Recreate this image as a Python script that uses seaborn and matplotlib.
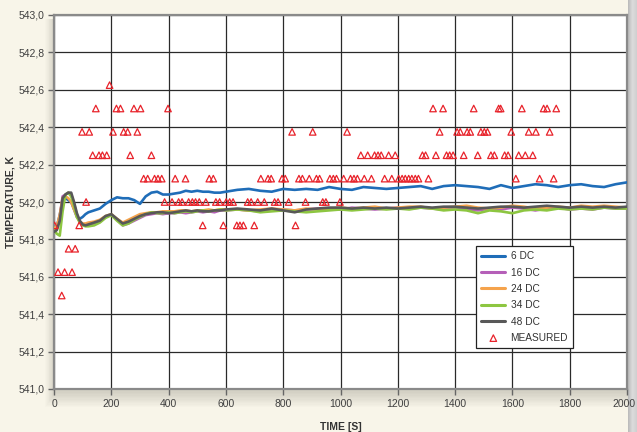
import numpy as np
import pandas as pd
import matplotlib
matplotlib.use("Agg")
import matplotlib.pyplot as plt
import seaborn as sns
from matplotlib.ticker import FuncFormatter, MultipleLocator
from matplotlib.patches import Rectangle

# Simulated coolant temperature for different numbers of discretisation cells
time_s = [0, 10, 20, 30, 40, 50, 60, 70, 80, 90, 100, 110, 120,
          140, 160, 180, 200, 220, 240, 260, 280, 300, 320, 340, 360, 380, 400,
          420, 440, 460, 480, 500, 520, 540, 560, 580, 600,
          640, 680, 720, 760, 800, 840, 880, 920, 960, 1000, 1040, 1080, 1120,
          1160, 1200, 1240, 1280, 1320, 1360, 1400, 1440, 1480, 1520, 1560,
          1600, 1640, 1680, 1720, 1760, 1800, 1840, 1880, 1920, 1960, 2000]

dc6 = [541.86, 541.87, 541.93, 542.01, 542.02, 542.01, 542.00, 541.96, 541.92, 541.91, 541.92, 541.935, 541.945,
       541.955, 541.965, 541.99, 542.01, 542.025, 542.02, 542.02, 542.01, 541.99, 542.03, 542.05, 542.055, 542.04, 542.04,
       542.045, 542.05, 542.06, 542.055, 542.06, 542.055, 542.055, 542.05, 542.05, 542.055,
       542.065, 542.07, 542.06, 542.055, 542.07, 542.065, 542.07, 542.065, 542.08, 542.07, 542.065, 542.08, 542.075,
       542.07, 542.075, 542.08, 542.085, 542.07, 542.085, 542.09, 542.085, 542.08, 542.07, 542.09,
       542.075, 542.085, 542.095, 542.09, 542.08, 542.09, 542.095, 542.085, 542.08, 542.095, 542.105]

dc16 = [541.85, 541.86, 541.92, 542.03, 542.04, 542.05, 542.04, 541.99, 541.93, 541.895, 541.88, 541.875, 541.875,
        541.885, 541.895, 541.92, 541.93, 541.905, 541.875, 541.885, 541.90, 541.915, 541.93, 541.935, 541.94, 541.935, 541.94,
        541.94, 541.945, 541.94, 541.945, 541.95, 541.945, 541.95, 541.945, 541.955, 541.955,
        541.96, 541.955, 541.95, 541.96, 541.96, 541.955, 541.96, 541.965, 541.965, 541.96, 541.97, 541.965, 541.96,
        541.965, 541.97, 541.965, 541.97, 541.965, 541.96, 541.965, 541.96, 541.955, 541.965, 541.96,
        541.97, 541.965, 541.955, 541.965, 541.97, 541.96, 541.965, 541.96, 541.97, 541.965, 541.965]

dc24 = [541.86, 541.87, 541.93, 542.02, 542.03, 542.02, 542.00, 541.96, 541.92, 541.895, 541.885, 541.885, 541.89,
        541.895, 541.905, 541.925, 541.935, 541.91, 541.89, 541.905, 541.92, 541.935, 541.94, 541.945, 541.945, 541.95, 541.95,
        541.95, 541.955, 541.955, 541.95, 541.955, 541.955, 541.96, 541.955, 541.96, 541.96,
        541.96, 541.955, 541.96, 541.965, 541.96, 541.955, 541.965, 541.96, 541.965, 541.97, 541.965, 541.97, 541.975,
        541.965, 541.97, 541.975, 541.975, 541.965, 541.97, 541.975, 541.98, 541.97, 541.965, 541.97,
        541.98, 541.975, 541.965, 541.97, 541.975, 541.97, 541.98, 541.975, 541.98, 541.975, 541.97]

dc34 = [541.85, 541.83, 541.82, 541.95, 542.04, 542.05, 542.03, 541.98, 541.92, 541.89, 541.875, 541.87, 541.87,
        541.875, 541.89, 541.915, 541.93, 541.90, 541.875, 541.885, 541.905, 541.92, 541.935, 541.945, 541.94, 541.94, 541.945,
        541.94, 541.945, 541.95, 541.945, 541.95, 541.955, 541.95, 541.955, 541.96, 541.955,
        541.96, 541.955, 541.945, 541.95, 541.955, 541.95, 541.945, 541.95, 541.955, 541.96, 541.955, 541.96, 541.965,
        541.96, 541.965, 541.96, 541.97, 541.965, 541.955, 541.96, 541.955, 541.94, 541.955, 541.95,
        541.94, 541.955, 541.96, 541.955, 541.965, 541.96, 541.965, 541.96, 541.97, 541.965, 541.965]

dc48 = [541.84, 541.85, 541.90, 542.02, 542.04, 542.05, 542.05, 542.00, 541.94, 541.90, 541.88, 541.875, 541.88,
        541.89, 541.90, 541.925, 541.935, 541.91, 541.885, 541.895, 541.91, 541.925, 541.935, 541.94, 541.945, 541.945, 541.94,
        541.945, 541.95, 541.955, 541.95, 541.955, 541.95, 541.95, 541.955, 541.955, 541.96,
        541.965, 541.96, 541.955, 541.965, 541.955, 541.945, 541.96, 541.965, 541.97, 541.97, 541.965, 541.97, 541.965,
        541.97, 541.965, 541.97, 541.975, 541.97, 541.975, 541.975, 541.97, 541.965, 541.97, 541.975,
        541.975, 541.97, 541.975, 541.98, 541.975, 541.97, 541.975, 541.97, 541.975, 541.97, 541.975]

series_names = ["6 DC", "16 DC", "24 DC", "34 DC", "48 DC"]
series_colors = ["#1f6db8", "#b55fb8", "#f5a34c", "#8dc641", "#585858"]

# Measured temperatures (recorded in 0.125 K steps) and the times they were logged
measured_levels = [542.625, 542.5, 542.375, 542.25, 542.125, 542.0, 541.875, 541.75, 541.625, 541.5]
measured_times = [
    [194],
    [146, 218, 232, 279, 302, 398, 1323, 1358, 1465, 1552, 1559, 1633, 1709, 1721, 1753],
    [98, 123, 206, 243, 257, 291, 831, 903, 1023, 1346, 1407, 1418, 1442, 1453, 1490, 1502,
     1513, 1596, 1657, 1682, 1730],
    [135, 157, 169, 184, 266, 340, 1071, 1095, 1119, 1131, 1142, 1168, 1191, 1286, 1297, 1333,
     1370, 1381, 1393, 1430, 1479, 1525, 1537, 1573, 1585, 1622, 1645, 1671],
    [313, 327, 351, 363, 376, 423, 459, 542, 556, 722, 747, 758, 796, 807, 855, 867, 891, 916,
     927, 963, 975, 986, 1011, 1035, 1047, 1059, 1083, 1108, 1154, 1179, 1203, 1215, 1226, 1238,
     1249, 1261, 1272, 1307, 1612, 1695, 1744],
    [112, 386, 412, 435, 447, 470, 483, 494, 507, 530, 565, 578, 601, 613, 625, 676, 688, 711,
     734, 770, 782, 819, 878, 938, 949, 998],
    [2, 88, 519, 591, 638, 649, 661, 699, 843],
    [51, 74],
    [14, 37, 63],
    [27],
]

x_ticks = list(range(0, 2001, 200))

lines = pd.concat(
    [pd.DataFrame({"time": time_s, "temp": vals, "series": name})
     for name, vals in zip(series_names, [dc6, dc16, dc24, dc34, dc48])],
    ignore_index=True)
measured = pd.DataFrame(
    [(t, lvl) for lvl, ts in zip(measured_levels, measured_times) for t in ts],
    columns=["time", "temp"])

sns.set_theme(style="white")
plt.rcParams["font.family"] = ["Liberation Sans", "DejaVu Sans"]

bg = "#f8f5e9"
fig = plt.figure(figsize=(6.37, 4.32), dpi=100, facecolor=bg)
ax = fig.add_axes([54 / 637, 43 / 432, 573 / 637, 374 / 432])
ax.set_zorder(3)

# soft drop shadow beneath the plotting area
for i in range(12):
    pad = i * 1.3
    fig.patches.append(Rectangle(((54 - pad * 0.6) / 637, (43 - 4 - pad) / 432),
                                 (573 + pad * 1.2) / 637, (374 + pad) / 432,
                                 transform=fig.transFigure, facecolor="#6a6a60",
                                 edgecolor="none", alpha=0.02, zorder=0))

# grey bevel strip on the right edge
strip = fig.add_axes([628 / 637, 0, 9 / 637, 1])
strip.set_zorder(1)
grad = np.linspace(0, 1, 64).reshape(1, -1)
strip.imshow(grad, aspect="auto", cmap=matplotlib.colors.LinearSegmentedColormap.from_list(
    "bevel", ["#b9b9b9", "#dcdcdc", "#cfcfcf"]), extent=[0, 1, 0, 1])
strip.set_axis_off()

ax.set_facecolor("white")
sns.lineplot(data=lines, x="time", y="temp", hue="series", hue_order=series_names,
             palette=series_colors, linewidth=1.9, ax=ax, zorder=3)
sns.scatterplot(data=measured, x="time", y="temp", marker="^", s=22,
                facecolor="none", edgecolor="#e8232b", linewidth=0.9,
                label="MEASURED", ax=ax, zorder=5)

ax.set_xlim(0, 2000)
ax.set_ylim(541.0, 543.0)
ax.set_xticks(x_ticks)
# the last label sits right at the canvas edge, so it is placed separately
ax.set_xticklabels([str(v) for v in x_ticks[:-1]] + [""])
ax.annotate(str(x_ticks[-1]), xy=(x_ticks[-1], 541.0), xycoords="data",
            xytext=(6.2, -7), textcoords="offset points", ha="right", va="top",
            fontsize=7.5, color="#404040", annotation_clip=False)
ax.yaxis.set_major_locator(MultipleLocator(0.2))
ax.yaxis.set_major_formatter(FuncFormatter(lambda v, _: f"{v:.1f}".replace(".", ",")))
ax.grid(True, color="#2a2a2a", linewidth=0.9)
ax.set_axisbelow(True)
for side in ["left", "bottom", "right", "top"]:
    ax.spines[side].set_color("#8a8a8a")
    ax.spines[side].set_linewidth(1.6)
ax.tick_params(axis="both", which="major", direction="out", length=4, width=1,
               color="#666666", labelsize=7.5, labelcolor="#404040", pad=3,
               bottom=True, left=True)

ax.set_xlabel("TIME [S]", fontsize=7.5, fontweight="bold", color="#333333")
ax.set_ylabel("TEMPERATURE, K", fontsize=7.5, fontweight="bold", color="#333333")
ax.xaxis.set_label_coords(0.5, -0.087)
ax.yaxis.set_label_coords(-0.068, 0.5)

handles, labels = ax.get_legend_handles_labels()
for h in handles[:5]:
    h.set_linewidth(2.2)
leg = ax.legend(handles, labels, loc="lower right", bbox_to_anchor=(0.906, 0.11),
                fontsize=7.3, frameon=True, fancybox=False, framealpha=1,
                edgecolor="#222222", handlelength=2.4, labelspacing=0.62,
                handletextpad=0.5, borderpad=0.5, borderaxespad=0)
leg.get_frame().set_linewidth(0.9)
for t in leg.get_texts():
    t.set_color("#333333")

fig.savefig("out.png", dpi=100, facecolor=bg)
